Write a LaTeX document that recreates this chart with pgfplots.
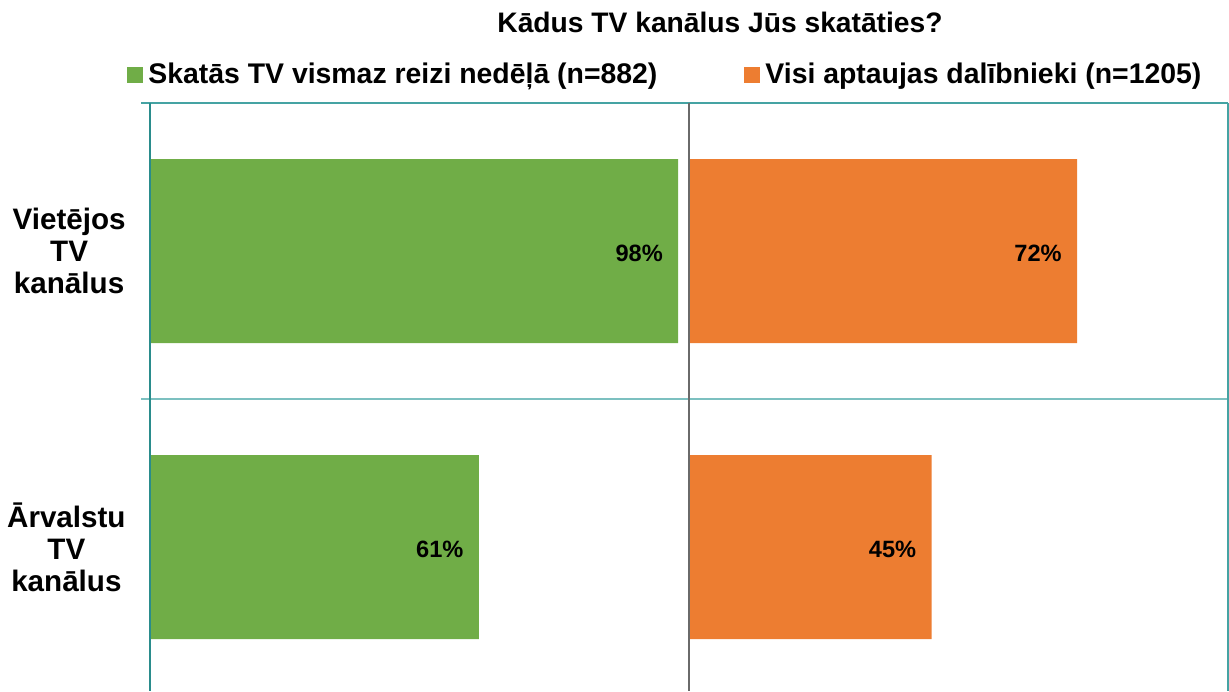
\documentclass[border=0pt]{standalone}
\usepackage{fontspec}
\setmainfont{Liberation Sans}
\usepackage{pgfplots}
\pgfplotsset{compat=1.18}
\definecolor{cgreen}{HTML}{70AD47}
\definecolor{corange}{HTML}{ED7D31}
\definecolor{tealdark}{HTML}{2A8C8C}
\definecolor{teallight}{HTML}{7CC0C0}
\definecolor{tealtop}{HTML}{45A3A3}
\definecolor{midgray}{HTML}{6A6A6A}
\pgfplotsset{panel/.style={
  xbar, scale only axis, width=269.5pt, height=294pt,
  xmin=0, xmax=100, ymin=-0.5, ymax=1.4865, y dir=reverse,
  bar width=92pt, axis line style={draw=none}, major tick length=0pt,
  xtick=\empty, ytick={0,1},
  point meta=x,
  /pgf/number format/assume math mode=true,
  nodes near coords={\pgfmathprintnumber{\pgfplotspointmeta}\%},
  every node near coord/.append style={anchor=east, inner sep=0pt, xshift=-7.5pt, yshift=-1pt,
     font=\fontsize{11.8}{13}\selectfont\bfseries, text=black},
  clip=false,
}}
\begin{document}
\begin{tikzpicture}
\useasboundingbox (0,0) rectangle (614.5pt,345.5pt);
\begin{axis}[panel, at={(75pt,294pt)}, anchor=north west,
  yticklabels={{Vietējos\\TV\\kanālus},{Ārvalstu\\TV\\kanālus}},
  yticklabel style={align=center, font=\fontsize{14.8}{16}\selectfont\bfseries, inner sep=0pt, xshift=-12pt},
  legend columns=2,
  legend image code/.code={\fill[#1] (0pt,-4pt) rectangle (8pt,4pt);},
  legend style={draw=none, fill=none, inner sep=0pt, at={(-0.0427,1.0476)}, anchor=west,
    font=\fontsize{14.2}{16}\selectfont\bfseries,
    nodes={inner xsep=2.5pt, inner ysep=0pt},
    /tikz/every even column/.append style={column sep=41pt}},
]
\addplot[fill=cgreen, draw=none] coordinates {(98,0) (61,1)};
\addlegendentry{Skatās TV vismaz reizi nedēļā (n=882)}
\addlegendimage{fill=corange, draw=none}
\addlegendentry{Visi aptaujas dalībnieki (n=1205)}
\end{axis}
\begin{axis}[panel, at={(344.5pt,294pt)}, anchor=north west, ytick=\empty]
\addplot[fill=corange, draw=none] coordinates {(72,0) (45,1)};
\end{axis}
\node[anchor=base, font=\fontsize{14.1}{16}\selectfont\bfseries] at (360pt,329pt) {Kādus TV kanālus Jūs skatāties?};
\draw[tealtop, line width=0.8pt] (70.5pt,294pt) -- (614pt,294pt);
\draw[teallight, line width=1pt] (70.5pt,146pt) -- (614pt,146pt);
\draw[tealdark, line width=0.8pt] (75pt,294pt) -- (75pt,0pt);
\draw[midgray, line width=1pt] (344.5pt,294pt) -- (344.5pt,0pt);
\draw[tealtop, line width=0.8pt] (614pt,294pt) -- (614pt,0pt);
\end{tikzpicture}
\end{document}
